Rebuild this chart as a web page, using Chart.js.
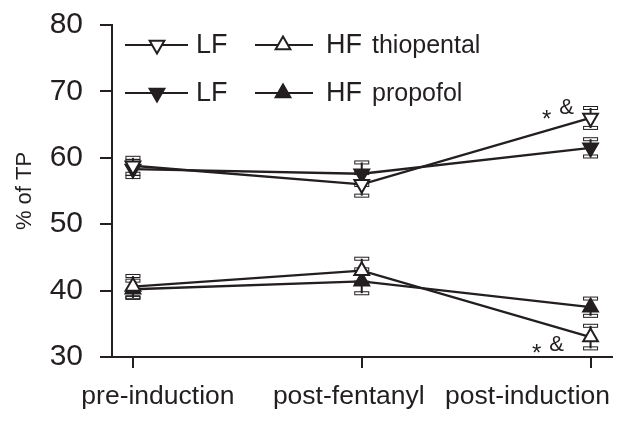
<!DOCTYPE html>
<html>
<head>
<meta charset="utf-8">
<script src="https://cdn.jsdelivr.net/npm/chart.js@4.4.1/dist/chart.umd.min.js"></script>
<style>
  html, body { margin: 0; padding: 0; background: #ffffff; }
  #wrap { width: 622px; height: 421px; position: relative; }
</style>
</head>
<body>
<div id="wrap"><canvas id="c" width="622" height="421"></canvas></div>
<script>
// ---- data ----
const categories = ['pre-induction', 'post-fentanyl', 'post-induction'];
const yTicks = [30, 40, 50, 60, 70, 80];

const lfThiopental = [58.8, 56.0, 66.0];
const lfThiopentalErr = [1.2, 1.7, 1.5];
const hfThiopental = [40.6, 43.0, 33.0];
const hfThiopentalErr = [1.6, 1.8, 1.7];
const lfPropofol = [58.3, 57.6, 61.5];
const lfPropofolErr = [1.2, 1.7, 1.3];
const hfPropofol = [40.2, 41.4, 37.5];
const hfPropofolErr = [1.3, 1.8, 1.3];

const legendRows = [
  ['LF', 'HF', 'thiopental'],
  ['LF', 'HF', 'propofol']
];
const significance = ['*', '&'];

// ---- styling ----
const INK = '#231f20';
const FONT = "'Liberation Sans', Arial, Helvetica, sans-serif";

function toPoints(arr) { return arr.map((v, i) => ({ x: i, y: v })); }

function makeSet(label, values, errs, down, filled) {
  return {
    label: label,
    data: toPoints(values),
    errors: errs,
    showLine: true,
    borderColor: INK,
    borderWidth: 2.3,
    pointStyle: 'triangle',
    pointRotation: down ? 180 : 0,
    pointRadius: 8.5,
    pointHoverRadius: 8.5,
    pointBorderWidth: 2,
    pointBackgroundColor: filled ? INK : '#ffffff',
    pointBorderColor: INK,
    fill: false,
    tension: 0
  };
}

function triangle(ctx, x, y, r, down, filled) {
  const rot = down ? Math.PI : 0;
  ctx.beginPath();
  for (let k = 0; k < 3; k++) {
    const a = rot + k * 2 * Math.PI / 3;
    const px = x + Math.sin(a) * r;
    const py = y - Math.cos(a) * r;
    if (k === 0) ctx.moveTo(px, py); else ctx.lineTo(px, py);
  }
  ctx.closePath();
  ctx.fillStyle = filled ? INK : '#ffffff';
  ctx.fill();
  ctx.lineWidth = 2;
  ctx.strokeStyle = INK;
  ctx.stroke();
}

const errorBars = {
  id: 'errorBars',
  beforeDatasetsDraw(chart) {
    const ctx = chart.ctx;
    const ys = chart.scales.y;
    ctx.save();
    chart.data.datasets.forEach((ds, di) => {
      const meta = chart.getDatasetMeta(di);
      ds.data.forEach((p, i) => {
        const e = ds.errors[i];
        const x = meta.data[i].x;
        const yt = ys.getPixelForValue(p.y + e);
        const yb = ys.getPixelForValue(p.y - e);
        ctx.strokeStyle = INK;
        ctx.lineWidth = 2;
        ctx.beginPath();
        ctx.moveTo(x, yt); ctx.lineTo(x, yb);
        ctx.stroke();
        ctx.lineWidth = 1;
        [yt, yb].forEach(yy => {
          ctx.strokeRect(x - 7, yy - 1.5, 14, 3);
        });
      });
    });
    ctx.restore();
  }
};

const extras = {
  id: 'extras',
  afterDraw(chart) {
    const ctx = chart.ctx;
    const xs = chart.scales.x;
    const ys = chart.scales.y;
    ctx.save();
    ctx.fillStyle = INK;

    // category labels under the x axis
    const shifts = [25, -13, -63];
    ctx.font = '26.5px ' + FONT;
    ctx.textAlign = 'center';
    ctx.textBaseline = 'alphabetic';
    categories.forEach((c, i) => {
      ctx.fillText(c, xs.getPixelForValue(i) + shifts[i], 404);
    });

    // significance marks at the last time point
    const last = categories.length - 1;
    const xl = xs.getPixelForValue(last);
    ctx.textBaseline = 'middle';
    ctx.font = '24px ' + FONT;
    const yUp = ys.getPixelForValue(lfThiopental[last]);
    ctx.fillText(significance[0], xl - 44, yUp + 2);
    ctx.font = '22px ' + FONT;
    ctx.fillText(significance[1], xl - 24, yUp - 10);
    const yDn = ys.getPixelForValue(hfThiopental[last]);
    ctx.font = '24px ' + FONT;
    ctx.fillText(significance[0], xl - 54, yDn + 17);
    ctx.font = '22px ' + FONT;
    ctx.fillText(significance[1], xl - 34, yDn + 8);

    // legend
    const rowsY = [45, 93];
    const sets = chart.data.datasets;
    rowsY.forEach((ry, r) => {
      const dsL = sets[r * 2];       // LF
      const dsH = sets[r * 2 + 1];   // HF
      // LF item
      ctx.strokeStyle = INK; ctx.lineWidth = 2;
      ctx.beginPath(); ctx.moveTo(125, ry); ctx.lineTo(188, ry); ctx.stroke();
      triangle(ctx, 157, ry, 8.5, true, dsL.pointBackgroundColor !== '#ffffff');
      ctx.fillStyle = INK;
      ctx.textAlign = 'left';
      ctx.textBaseline = 'middle';
      ctx.font = '27px ' + FONT;
      ctx.fillText(legendRows[r][0], 196, ry + 1);
      // HF item
      ctx.strokeStyle = INK; ctx.lineWidth = 2;
      ctx.beginPath(); ctx.moveTo(255, ry); ctx.lineTo(313, ry); ctx.stroke();
      triangle(ctx, 283, ry, 8.5, false, dsH.pointBackgroundColor !== '#ffffff');
      ctx.fillStyle = INK;
      ctx.font = '27px ' + FONT;
      ctx.fillText(legendRows[r][1], 326, ry + 1);
      ctx.font = '25px ' + FONT;
      ctx.fillText(legendRows[r][2], 372, ry + 1);
    });
    ctx.restore();
  }
};

new Chart(document.getElementById('c'), {
  type: 'scatter',
  data: {
    datasets: [
      makeSet('LF thiopental', lfThiopental, lfThiopentalErr, true, false),
      makeSet('HF thiopental', hfThiopental, hfThiopentalErr, false, false),
      makeSet('LF propofol', lfPropofol, lfPropofolErr, true, true),
      makeSet('HF propofol', hfPropofol, hfPropofolErr, false, true)
    ]
  },
  options: {
    responsive: false,
    devicePixelRatio: 1,
    animation: false,
    layout: { padding: { left: 0, right: 9, top: 25, bottom: 0 } },
    plugins: { legend: { display: false }, tooltip: { enabled: false } },
    scales: {
      x: {
        type: 'linear',
        min: -0.0915,
        max: categories.length - 1 + 0.0915,
        afterBuildTicks(scale) { scale.ticks = categories.map((_, i) => ({ value: i })); },
        afterFit(scale) {
          scale.height = 64;
          scale.paddingLeft = 0; scale.paddingRight = 0;
          scale.paddingTop = 0; scale.paddingBottom = 0;
        },
        ticks: { display: false },
        grid: { display: true, drawOnChartArea: false, drawTicks: true, tickLength: 11, color: INK, lineWidth: 2 },
        border: { display: true, color: INK, width: 2 }
      },
      y: {
        min: yTicks[0],
        max: yTicks[yTicks.length - 1],
        afterBuildTicks(scale) { scale.ticks = yTicks.map(v => ({ value: v })); },
        afterFit(scale) {
          scale.width = 112;
          scale.paddingTop = 0; scale.paddingBottom = 0;
          scale.paddingLeft = 0; scale.paddingRight = 0;
        },
        ticks: { color: INK, padding: 17, font: { family: FONT, size: 30 } },
        grid: { display: true, drawOnChartArea: false, drawTicks: true, tickLength: 12, color: INK, lineWidth: 2 },
        border: { display: true, color: INK, width: 2 },
        title: { display: true, text: '% of TP', color: INK, font: { family: FONT, size: 22 }, padding: { top: 12, bottom: 0 } }
      }
    }
  },
  plugins: [errorBars, extras]
});
</script>
</body>
</html>
